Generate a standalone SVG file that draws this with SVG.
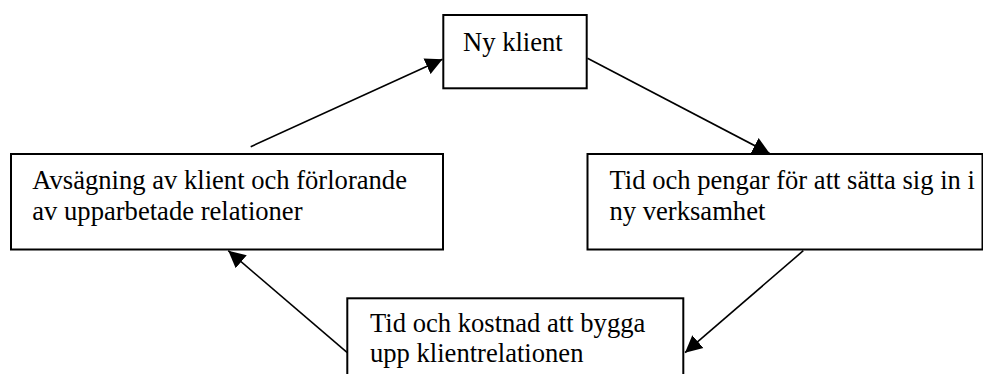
<svg xmlns="http://www.w3.org/2000/svg" width="983" height="374" viewBox="0 0 983 374">
<style>
  .box { fill: #ffffff; stroke: #000000; stroke-width: 2; }
  .lbl { font-family: "Liberation Serif", "Times New Roman", serif; font-size: 26.6px; fill: #000000; }
  .conn { fill: none; stroke: #000000; stroke-width: 1.6; }
</style>
<defs>
  <marker id="arrow" markerUnits="userSpaceOnUse" markerWidth="18" markerHeight="18" refX="17" refY="9" orient="auto" viewBox="0 0 18 18">
    <path d="M0,0.5 L17,9 L0,17.5 Z" fill="#000000"/>
  </marker>
</defs>
<rect width="983" height="374" fill="#ffffff"/>
<g id="connectors">
  <line class="conn" x1="250.7" y1="146.7" x2="442.5" y2="59.3" marker-end="url(#arrow)"/>
  <line class="conn" x1="587.5" y1="58.3" x2="769.7" y2="153.5" marker-end="url(#arrow)"/>
  <line class="conn" x1="803.3" y1="250.7" x2="685" y2="352.7" marker-end="url(#arrow)"/>
  <line class="conn" x1="347.3" y1="352.7" x2="228.3" y2="250.7" marker-end="url(#arrow)"/>
</g>
<g id="node-ny-klient">
  <rect class="box" x="443.3" y="15" width="143.4" height="73.3"/>
  <text class="lbl" x="463" y="51">Ny klient</text>
</g>
<g id="node-avsagning">
  <rect class="box" x="11" y="154" width="432" height="95.5"/>
  <text class="lbl" x="32.3" y="188.5">Avsägning av klient och förlorande</text>
  <text class="lbl" x="32.3" y="219.5">av upparbetade relationer</text>
</g>
<g id="node-tid-pengar">
  <rect class="box" x="587.5" y="154" width="395" height="95.5"/>
  <text class="lbl" x="609.5" y="189">Tid och pengar för att sätta sig in i</text>
  <text class="lbl" x="609.5" y="220">ny verksamhet</text>
</g>
<g id="node-tid-kostnad">
  <rect class="box" x="347.3" y="298.3" width="336" height="90"/>
  <text class="lbl" x="370" y="331.7">Tid och kostnad att bygga</text>
  <text class="lbl" x="370" y="362">upp klientrelationen</text>
</g>
</svg>
